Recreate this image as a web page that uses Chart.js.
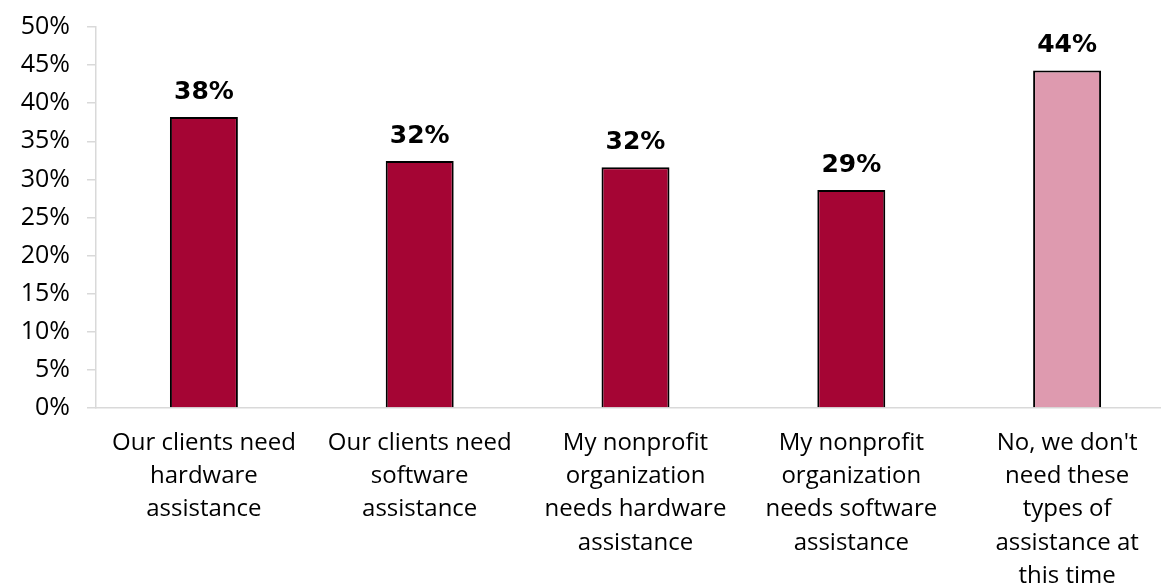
<!DOCTYPE html>
<html>
<head>
<meta charset="utf-8">
<title>Technology assistance needs</title>
<script src="https://cdn.jsdelivr.net/npm/chart.js@4.4.1/dist/chart.umd.min.js"></script>
<style>
    html, body { margin: 0; padding: 0; background: #fff; overflow: hidden; }
    #wrap { position: relative; width: 1175px; height: 588px; }
</style>
</head>
<body>
<div id="wrap"><canvas id="needsChart"></canvas></div>
<script>
const categories = [
    ['Our clients need', 'hardware', 'assistance'],
    ['Our clients need', 'software', 'assistance'],
    ['My nonprofit', 'organization', 'needs hardware', 'assistance'],
    ['My nonprofit', 'organization', 'needs software', 'assistance'],
    ['No, we don\'t', 'need these', 'types of', 'assistance at', 'this time']
];
const shares = [38.2, 32.4, 31.6, 28.6, 44.3];
const barColors = ['#A50534', '#A50534', '#A50534', '#A50534', '#DE9AAF'];
const yTicks = [0, 5, 10, 15, 20, 25, 30, 35, 40, 45, 50];

const FONT = '"Open Sans", "Liberation Sans", sans-serif';
const BOLD_FONT = '"DejaVu Sans", "Open Sans", sans-serif';

// percentage labels above each bar
const valueLabels = {
    id: 'valueLabels',
    afterDatasetsDraw(chart) {
        const ctx = chart.ctx;
        const meta = chart.getDatasetMeta(0);
        ctx.save();
        ctx.font = `bold 25px ${BOLD_FONT}`;
        ctx.fillStyle = '#000';
        ctx.textAlign = 'center';
        ctx.textBaseline = 'alphabetic';
        meta.data.forEach((bar, i) => {
            ctx.fillText(`${Math.round(shares[i])}%`, bar.x, bar.y - 18);
        });
        ctx.restore();
    }
};

const ctx = document.getElementById('needsChart').getContext('2d');
new Chart(ctx, {
    type: 'bar',
    data: {
        labels: categories,
        datasets: [{
            data: shares,
            backgroundColor: barColors,
            borderColor: '#000',
            borderWidth: 2,
            categoryPercentage: 1,
            barPercentage: 0.315
        }]
    },
    options: {
        responsive: true,
        maintainAspectRatio: false,
        animation: false,
        layout: { padding: { top: 27, left: 0, right: 0, bottom: 0 } },
        plugins: {
            legend: { display: false },
            tooltip: { enabled: false }
        },
        scales: {
            y: {
                min: 0,
                max: 50,
                afterBuildTicks: scale => {
                    scale.ticks = yTicks.map(v => ({ value: v }));
                },
                afterFit: scale => {
                    scale.width = 96;
                    scale.paddingTop = 0;
                    scale.paddingBottom = 0;
                },
                border: { color: '#d9d9d9', width: 1.5 },
                grid: {
                    drawOnChartArea: false,
                    drawTicks: true,
                    tickLength: 9,
                    color: '#d9d9d9',
                    lineWidth: 1.5
                },
                ticks: {
                    padding: 17,
                    color: '#000',
                    font: { family: FONT, size: 25 },
                    callback: v => `${v}%`
                }
            },
            x: {
                afterFit: scale => { scale.height = 180; },
                border: { color: '#d9d9d9', width: 1.5 },
                grid: { display: false, drawTicks: false },
                ticks: {
                    padding: 18,
                    color: '#000',
                    maxRotation: 0,
                    autoSkip: false,
                    font: { family: FONT, size: 24, lineHeight: 1.39 }
                }
            }
        }
    },
    plugins: [valueLabels]
});
</script>
</body>
</html>
